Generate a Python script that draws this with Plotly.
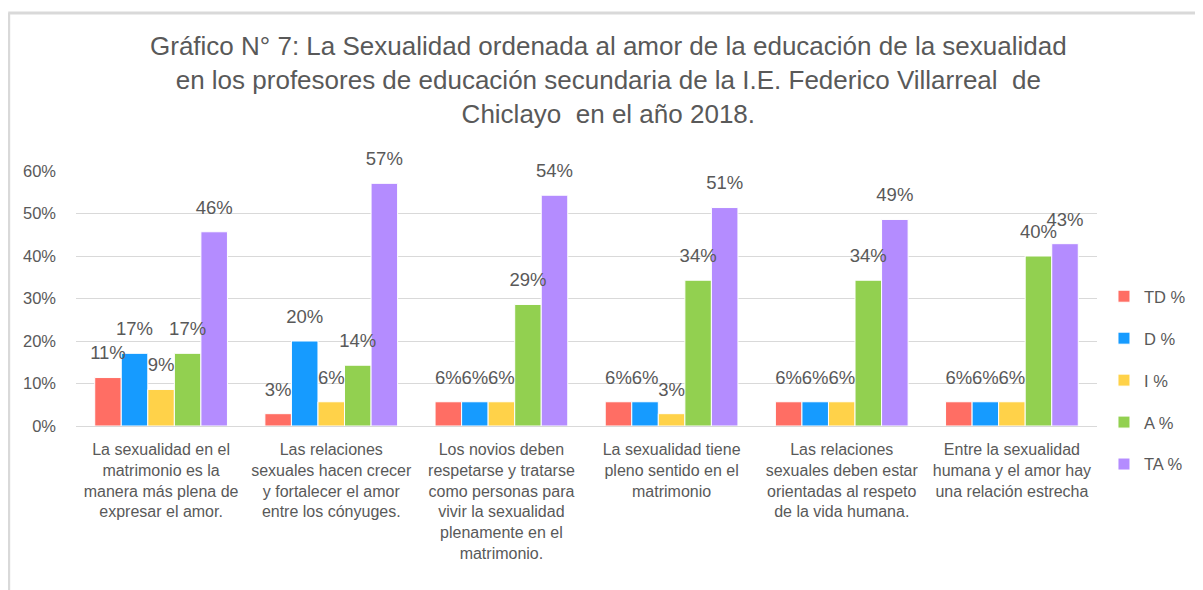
import plotly.graph_objects as go

categories = [
    "La sexualidad en el<br>matrimonio es la<br>manera más plena de<br>expresar el amor.",
    "Las relaciones<br>sexuales hacen crecer<br>y fortalecer el amor<br>entre los cónyuges.",
    "Los novios deben<br>respetarse y tratarse<br>como personas para<br>vivir la sexualidad<br>plenamente en el<br>matrimonio.",
    "La sexualidad tiene<br>pleno sentido en el<br>matrimonio",
    "Las relaciones<br>sexuales deben estar<br>orientadas al respeto<br>de la vida humana.",
    "Entre la sexualidad<br>humana y el amor hay<br>una relación estrecha",
]
series_names = ["TD %", "D %", "I %", "A %", "TA %"]
td = [0.114, 0.029, 0.057, 0.057, 0.057, 0.057]
d = [0.171, 0.200, 0.057, 0.057, 0.057, 0.057]
i_ = [0.086, 0.057, 0.057, 0.029, 0.057, 0.057]
a = [0.171, 0.143, 0.286, 0.343, 0.343, 0.400]
ta = [0.457, 0.571, 0.543, 0.514, 0.486, 0.429]
series_values = [td, d, i_, a, ta]
colors = ["#FF6E64", "#169BFF", "#FFD249", "#92D050", "#B48CFF"]
y_ticks = [0, 0.1, 0.2, 0.3, 0.4, 0.5, 0.6]

FONT = "Liberation Sans, Arial, sans-serif"
TXT = "#595959"

fig = go.Figure()
for name, vals, col in zip(series_names, series_values, colors):
    fig.add_trace(go.Bar(
        x=categories, y=vals, name=name, legendgroup=name, offsetgroup=name,
        marker=dict(color=col, line=dict(color="white", width=1)),
        hovertemplate="%{y:.1%}<extra>" + name + "</extra>",
    ))
# data labels, grouped the same way as the bars
for name, vals in zip(series_names, series_values):
    fig.add_trace(go.Scatter(
        x=categories, y=vals, mode="markers+text", offsetgroup=name,
        text=[f"{v:.0%}" for v in vals], textposition="top center",
        marker=dict(size=20, opacity=0), cliponaxis=False,
        textfont=dict(family=FONT, size=18.5, color=TXT),
        showlegend=False, hoverinfo="skip",
    ))

# page body has an 8px margin, so layout is shifted by 8px
OFF = 8
W, H = 1203 - OFF, 590 - OFF
ml, mt = 76 - OFF, 171 - OFF
plot_right, plot_bottom = 1100 - OFF, 426 - OFF
mr, mb = W - plot_right, H - plot_bottom
pw, ph = W - ml - mr, H - mt - mb

def px_x(p):
    return (p - ml) / pw

def px_y(p):
    return (H - mb - p) / ph

fig.update_layout(
    width=W, height=H,
    margin=dict(l=ml, r=mr, t=mt, b=mb, pad=0),
    paper_bgcolor="white", plot_bgcolor="white",
    barmode="group", bargap=0.22, bargroupgap=0,
    scattermode="group", scattergap=0.22,
    font=dict(family=FONT, color=TXT),
    yaxis=dict(
        range=[0, 0.6], tickvals=y_ticks, tickformat=".0%",
        showgrid=True, gridcolor="#D9D9D9", gridwidth=1,
        zeroline=True, zerolinecolor="#D9D9D9", zerolinewidth=1,
        tickfont=dict(family=FONT, size=16.5, color=TXT),
        ticks="", ticklabelstandoff=19, fixedrange=True,
    ),
    xaxis=dict(
        tickfont=dict(family=FONT, size=16, color=TXT),
        tickangle=0, ticks="", showline=False, fixedrange=True,
        ticklabelstandoff=12,
    ),
    legend=dict(
        x=px_x(1099), xanchor="left", y=px_y(271), yanchor="top",
        font=dict(family=FONT, size=16.5, color=TXT),
        tracegroupgap=17.5, itemwidth=30, borderwidth=0,
    ),
    showlegend=True,
)

fig.add_annotation(
    xref="paper", yref="paper", x=px_x(602), y=px_y(21),
    xanchor="center", yanchor="top", showarrow=False, align="center",
    text="Gráfico N° 7: La Sexualidad ordenada al amor de la educación de la sexualidad<br>en los profesores de educación secundaria de la I.E. Federico Villarreal  de<br>Chiclayo  en el año 2018.",
    font=dict(family=FONT, size=26, color=TXT),
)

# outer chart frame (left and top edges)
fig.add_shape(type="line", xref="paper", yref="paper",
              x0=px_x(0.5), x1=px_x(0.5), y0=px_y(H), y1=px_y(5),
              line=dict(color="#D9D9D9", width=3))
fig.add_shape(type="line", xref="paper", yref="paper",
              x0=px_x(0), x1=px_x(W), y0=px_y(5), y1=px_y(5),
              line=dict(color="#D9D9D9", width=3))

fig.write_html("out.html")
